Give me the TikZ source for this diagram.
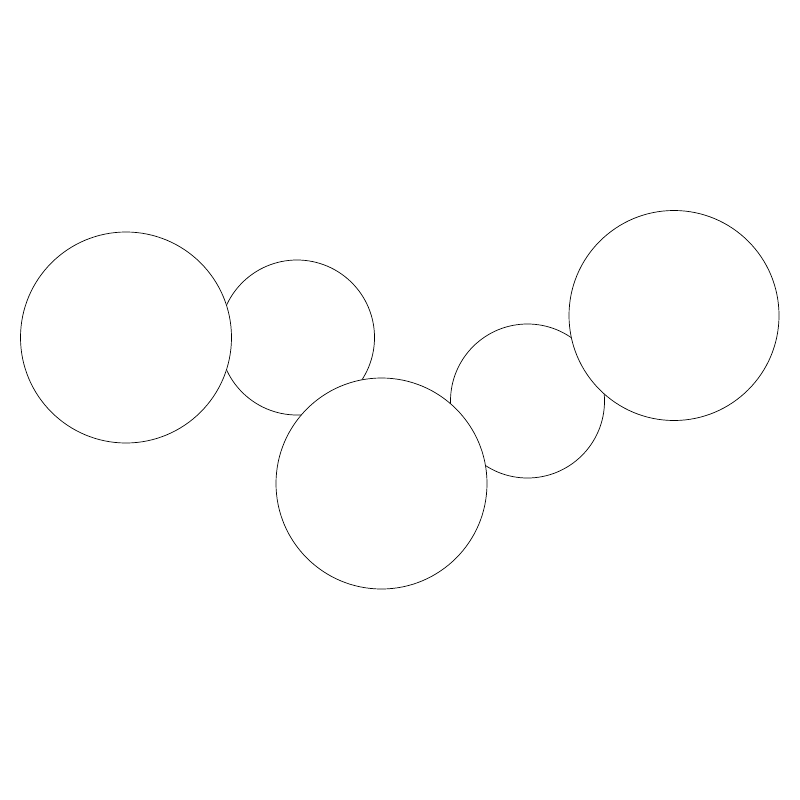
\documentclass[tikz,border=0pt]{standalone}
\begin{document}
\begin{tikzpicture}[x=1pt,y=-1pt]
%\draw[gray] (0,0) grid (800,800);
\useasboundingbox (0,0) rectangle (800,800);

\tikzset{ring/.style={circle,draw=black,fill=white,line width=0.7pt,inner sep=0pt}}

% small circles behind
\foreach \name/\x/\y/\d in {ringb/297/337.5/155,ringd/527.5/401/154}{
\node[ring,minimum size=\d pt] (\name) at (\x,\y) {};
}
% large circles in front
\foreach \name/\x/\y/\d in {ringa/126/337.5/211,ringc/381.5/483.5/211,ringe/674/315.5/210}{
\node[ring,minimum size=\d pt] (\name) at (\x,\y) {};
}

\end{tikzpicture}
\end{document}
